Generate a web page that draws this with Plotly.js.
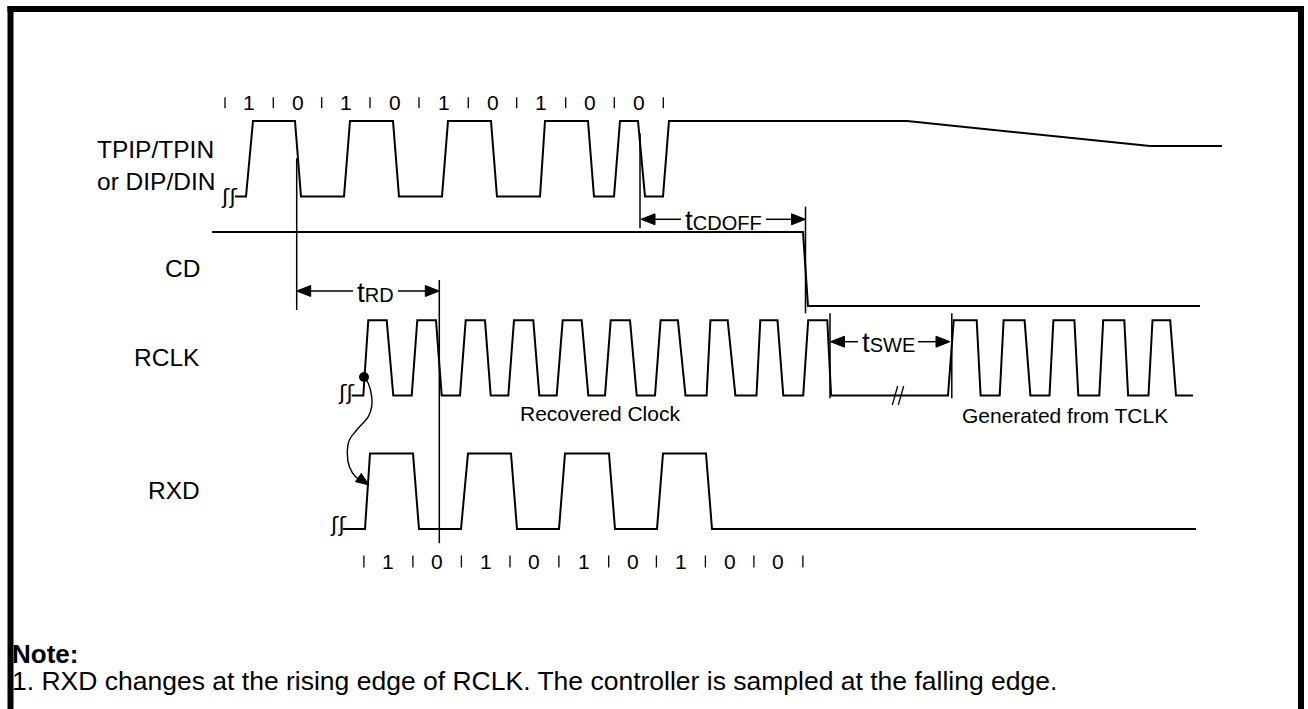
<!DOCTYPE html>
<html><head><meta charset="utf-8">
<script src="https://cdn.plot.ly/plotly-3.0.1.min.js"></script>
<style>html,body{margin:0;padding:0;background:#fff;overflow:hidden}</style>
</head><body><div id="chart" style="width:1308px;height:709px"></div>
<script>
// ---------- data (time axis in drawing units) ----------
const signalNames = ['TPIP/TPIN<br>or DIP/DIN', 'CD', 'RCLK', 'RXD'];

const tpipT = [235, 246, 253, 295, 301, 344, 350, 393, 399, 442, 448, 491, 497, 540, 545, 588, 594, 614, 620, 638, 645, 663, 669, 907, 1150, 1222];
const tpipL = [0, 0, 1, 1, 0, 0, 1, 1, 0, 0, 1, 1, 0, 0, 1, 1, 0, 0, 1, 1, 0, 0, 1, 1, 0.67, 0.67];

const cdT = [212, 803, 808, 1200];
const cdL = [1, 1, 0, 0];

const rclkT = [351.7, 363.3,
  368.3, 386.7, 393.3, 411.7,
  417.3, 436, 441.7, 460,
  465.7, 485, 490.7, 508.3,
  514, 533.3, 539.3, 556.7,
  562.7, 581.7, 588.3, 605,
  610.7, 630, 636.7, 655,
  660.6, 677.9, 685.5, 706.6,
  710.4, 727.7, 735.4, 756.5,
  760.3, 777.5, 783.3, 803.2,
  808.2, 827.3, 831.1, 948,
  953.7, 976.7, 980.6, 999.7,
  1003.6, 1024.6, 1030.4, 1049.5,
  1053.4, 1074.4, 1078.3, 1099.3,
  1103.2, 1124.3, 1128.1, 1148.5,
  1152.5, 1170.2, 1176, 1193];
const rclkL = [0, 0,
  1, 1, 0, 0,  1, 1, 0, 0,  1, 1, 0, 0,  1, 1, 0, 0,  1, 1, 0, 0,
  1, 1, 0, 0,  1, 1, 0, 0,  1, 1, 0, 0,  1, 1, 0, 0,  1, 1, 0, 0,
  1, 1, 0, 0,  1, 1, 0, 0,  1, 1, 0, 0,  1, 1, 0, 0,  1, 1, 0, 0];

const rxdT = [343, 365, 370, 413, 419, 461, 468, 511, 517, 559, 565, 609, 615, 657, 663, 706, 712, 1196];
const rxdL = [0, 0, 1, 1, 0, 0, 1, 1, 0, 0, 1, 1, 0, 0, 1, 1, 0, 0];

// bit cells
const topBitTicks = [225, 273.3, 321.7, 370, 419, 468.3, 516.7, 565.7, 614.3, 663.3];
const topBits = ['1', '0', '1', '0', '1', '0', '1', '0', '0'];
const bottomBitTicks = [363.9, 412.9, 461.4, 510, 558.9, 608.7, 656.4, 705.4, 753.9, 802.9];
const bottomBits = ['1', '0', '1', '0', '1', '0', '1', '0', '0'];

// timing reference lines
const refT = [296.7, 439.3, 640, 805.5, 830, 951.8];
const refTop = [158.3, 280, 133.3, 206.7, 313.3, 313.3];
const refBottom = [310, 543.3, 228.3, 313.3, 398.3, 398.3];

// timing parameters
const timingNames = ['RD', 'CDOFF', 'SWE'];
const timingStart = [296.7, 641, 830.5];
const timingEnd = [439.3, 805.5, 950];
const timingRow = [291, 219.3, 341.7];
const timingGapL = [353, 681, 858];
const timingGapR = [398, 766, 918];

// sampling relation (RCLK rising edge -> RXD)
const edgeDotT = [364], edgeDotY = [377];
const curveX = [364, 368.3, 371.7, 371.7, 368.3, 356.7, 349.4, 347.3, 349.4, 355.6, 360];
const curveY = [377, 383.3, 396.7, 406.7, 416.7, 430, 440, 453.3, 466.7, 476.7, 479.5];
const curveTip = [369, 485];

const rclkBreakT = 898;
const breakMarks = [[229, 196], [345.8, 392.5], [338, 524]];

// ---------- styling / layout ----------
const FONT = 'Liberation Sans, Arial, Helvetica, sans-serif';
const INK = '#000000';
const lanes = { tpip: [196.5, 121], cd: [306, 232], rclk: [395.5, 320.3], rxd: [529, 453.5] };
const toY = (lane, L) => L.map(v => v === null ? null : lane[0] - v * (lane[0] - lane[1]));

const traces = [];
function wave(t, l, lane) {
  traces.push({ x: t, y: toY(lane, l), type: 'scatter', mode: 'lines', line: { color: INK, width: 2 }, hoverinfo: 'skip' });
}
wave(tpipT, tpipL, lanes.tpip);
wave(cdT, cdL, lanes.cd);
wave(rclkT, rclkL, lanes.rclk);
wave(rxdT, rxdL, lanes.rxd);

// reference lines
const rx = [], ry = [];
refT.forEach((t, i) => { rx.push(t, t, null); ry.push(refTop[i], refBottom[i], null); });
traces.push({ x: rx, y: ry, type: 'scatter', mode: 'lines', line: { color: INK, width: 1.5 }, hoverinfo: 'skip' });

// bit ticks
function ticks(arr, y0, y1) {
  const x = [], y = [];
  arr.forEach(t => { x.push(t, t, null); y.push(y0, y1, null); });
  traces.push({ x, y, type: 'scatter', mode: 'lines', line: { color: INK, width: 1.3 }, hoverinfo: 'skip' });
}
ticks(topBitTicks, 97.3, 108.3);
ticks(bottomBitTicks, 555.5, 567.5);

// timing arrows
const HL = 14, HH = 5.5;
const ax = [], ay = [];
timingNames.forEach((n, i) => {
  const y = timingRow[i], s = timingStart[i], e = timingEnd[i];
  ax.push(s + HL - 1, timingGapL[i], null, timingGapR[i], e - HL + 1, null);
  ay.push(y, y, null, y, y, null);
  traces.push({ x: [s, s + HL, s + HL, s], y: [y, y - HH, y + HH, y], type: 'scatter', mode: 'lines', fill: 'toself', fillcolor: INK, line: { color: INK, width: 1 }, hoverinfo: 'skip' });
  traces.push({ x: [e, e - HL, e - HL, e], y: [y, y - HH, y + HH, y], type: 'scatter', mode: 'lines', fill: 'toself', fillcolor: INK, line: { color: INK, width: 1 }, hoverinfo: 'skip' });
});
traces.push({ x: ax, y: ay, type: 'scatter', mode: 'lines', line: { color: INK, width: 1.5 }, hoverinfo: 'skip' });

// curved arrow + dot
traces.push({ x: curveX, y: curveY, type: 'scatter', mode: 'lines', line: { color: INK, width: 1.4, shape: 'spline' }, hoverinfo: 'skip' });
(function () {
  const ang = 35 * Math.PI / 180, dx = Math.cos(ang), dy = Math.sin(ang), L = 13, h = 5;
  const bx = curveTip[0] - L * dx, by = curveTip[1] - L * dy;
  traces.push({ x: [curveTip[0], bx - h * dy, bx + h * dy, curveTip[0]], y: [curveTip[1], by + h * dx, by - h * dx, curveTip[1]], type: 'scatter', mode: 'lines', fill: 'toself', fillcolor: INK, line: { color: INK, width: 1 }, hoverinfo: 'skip' });
})();
traces.push({ x: edgeDotT, y: edgeDotY, type: 'scatter', mode: 'markers', marker: { color: INK, size: 10 }, hoverinfo: 'skip' });

// "//" break on RCLK
(function () {
  const yb = lanes.rclk[0];
  const x = [], y = [];
  [-3, 3].forEach(o => { x.push(rclkBreakT + o - 2.7, rclkBreakT + o + 2.7, null); y.push(yb + 9.5, yb - 9.5, null); });
  traces.push({ x, y, type: 'scatter', mode: 'lines', line: { color: INK, width: 1.3 }, hoverinfo: 'skip' });
})();

// ---------- annotations ----------
const ann = [];
function txt(text, x, y, size, xanchor, extra) {
  ann.push(Object.assign({ text, x, y, xref: 'x', yref: 'y', showarrow: false, xanchor: xanchor || 'center', yanchor: 'middle', font: { family: FONT, size, color: INK }, align: 'left' }, extra || {}));
}
txt(signalNames[0], 95, 165.8, 24.5, 'left');
txt(signalNames[1], 202, 268, 24.5, 'right');
txt(signalNames[2], 202, 357, 24.5, 'right');
txt(signalNames[3], 202, 490, 24.5, 'right');

topBits.forEach((b, i) => txt(b, (topBitTicks[i] + topBitTicks[i + 1]) / 2, 102.5, 21));
bottomBits.forEach((b, i) => txt(b, (bottomBitTicks[i] + bottomBitTicks[i + 1]) / 2, 561.5, 21));

timingNames.forEach((n, i) => {
  txt('<span style="font-size:28px">t</span><span style="font-size:20px">' + n + '</span>', (timingGapL[i] + timingGapR[i]) / 2, timingRow[i] + 1, 20);
});

txt('Recovered Clock', 518.3, 413.3, 21, 'left');
txt('Generated from TCLK', 959.5, 415, 21, 'left');

breakMarks.forEach(p => ann.push({ text: 'ʃʃ', x: p[0], y: p[1], xref: 'x', yref: 'y', showarrow: false, xanchor: 'center', yanchor: 'middle', font: { family: 'DejaVu Sans', size: 22, color: INK } }));

txt('<b>Note:</b>', 10, 654, 26, 'left');
txt('1. RXD changes at the rising edge of RCLK. The controller is sampled at the falling edge.', 10, 680.5, 26.5, 'left');

const layout = {
  width: 1308, height: 709,
  margin: { l: 0, r: 0, t: 0, b: 0, pad: 0 },
  paper_bgcolor: '#ffffff', plot_bgcolor: '#ffffff',
  showlegend: false, hovermode: false,
  xaxis: { range: [0, 1308], visible: false, fixedrange: true },
  yaxis: { range: [709, 0], visible: false, fixedrange: true },
  annotations: ann,
  shapes: [
    { type: 'line', xref: 'x', yref: 'y', x0: 10.5, x1: 10.5, y0: 6, y1: 712, line: { color: INK, width: 6 } },
    { type: 'line', xref: 'x', yref: 'y', x0: 7.5, x1: 1304, y0: 9, y1: 9, line: { color: INK, width: 6 } },
    { type: 'line', xref: 'x', yref: 'y', x0: 1301, x1: 1301, y0: 6, y1: 712, line: { color: INK, width: 6 } }
  ]
};
Plotly.newPlot('chart', traces, layout, { displayModeBar: false, staticPlot: true });
</script></body></html>
